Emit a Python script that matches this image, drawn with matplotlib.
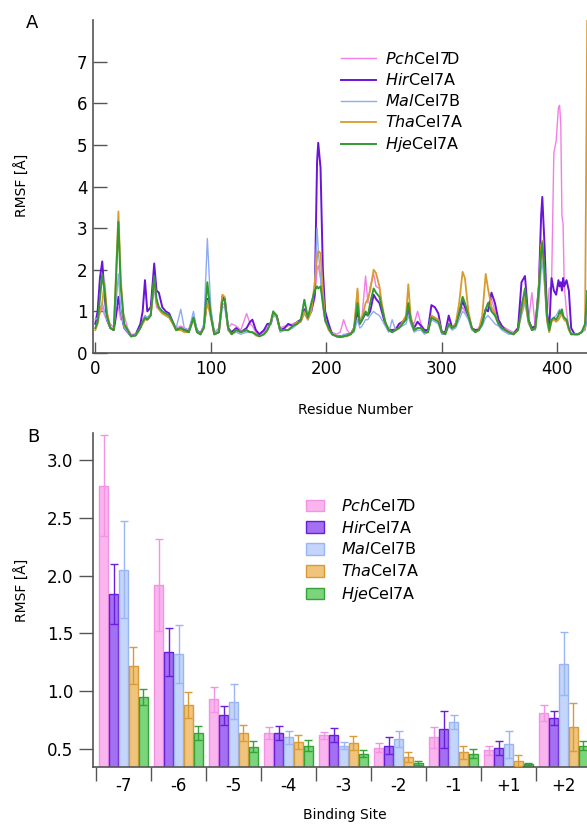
import matplotlib
matplotlib.use("agg")
import matplotlib.pyplot as plt
import numpy as np
from matplotlib.ticker import FixedLocator, FormatStrFormatter

plt.rcParams['font.family'] = ['DejaVu Sans']
plt.rcParams['mathtext.fontset'] = 'dejavusans'

# ---- shared series info ----
names = [r"$\mathit{Pch}$Cel7D", r"$\mathit{Hir}$Cel7A", r"$\mathit{Mal}$Cel7B",
         r"$\mathit{Tha}$Cel7A", r"$\mathit{Hje}$Cel7A"]
line_colors = ["#f27fe5", "#6b14d8", "#8eabf2", "#d99a2e", "#2f9b32"]
fill_colors = ["#fab5ef", "#a470f2", "#c4d5fb", "#f0c47c", "#7ad57c"]
edge_colors = ["#f293e4", "#6a1ed9", "#9ab6f2", "#d99b35", "#35a338"]

# ---- panel A: RMSF per residue (at selected residues) ----
residues = [
    0, 2, 4, 6, 8, 10, 13, 16, 18, 20,
    22, 25, 28, 31, 35, 39, 41, 43, 45, 48,
    51, 53, 55, 58, 61, 64, 67, 70, 74, 77,
    81, 85, 88, 91, 94, 97, 100, 103, 107, 110,
    112, 115, 118, 122, 126, 131, 134, 136, 139, 142,
    146, 149, 152, 154, 157, 160, 164, 167, 171, 175,
    178, 181, 184, 187, 190, 192, 193, 195, 197, 199,
    202, 205, 209, 212, 215, 218, 221, 224, 227, 229,
    231, 234, 236, 238, 241, 243, 246, 248, 251, 254,
    257, 260, 263, 266, 269, 271, 273, 276, 279, 282,
    285, 288, 291, 294, 297, 300, 303, 306, 309, 312,
    315, 318, 320, 323, 326, 329, 332, 335, 338, 340,
    343, 346, 349, 352, 355, 358, 362, 366, 369, 372,
    375, 378, 381, 384, 386, 387, 389, 391, 393, 395,
    397, 399, 401, 402, 403, 404, 405, 406, 408, 410,
    412, 415, 418, 421, 424, 426, 428, 432,
]

pch_rmsf = [
    0.80, 0.85, 0.95, 1.10, 0.90, 0.80, 0.70, 0.60, 1.00, 1.10,
    0.80, 0.90, 0.60, 0.45, 0.45, 0.65, 0.80, 0.90, 0.85, 0.90,
    1.60, 1.10, 1.05, 0.95, 0.90, 0.85, 0.75, 0.60, 0.65, 0.60,
    0.55, 0.85, 0.55, 0.50, 0.65, 1.20, 0.90, 0.50, 0.60, 1.20,
    1.15, 0.60, 0.70, 0.65, 0.55, 0.95, 0.70, 0.65, 0.50, 0.45,
    0.50, 0.60, 0.70, 0.95, 0.90, 0.60, 0.65, 0.65, 0.70, 0.75,
    0.80, 0.95, 0.80, 1.00, 1.30, 2.00, 2.10, 1.80, 1.10, 0.75,
    0.60, 0.50, 0.45, 0.50, 0.80, 0.55, 0.45, 0.60, 1.50, 0.75,
    0.90, 1.85, 1.20, 1.60, 1.90, 1.60, 1.55, 1.10, 0.70, 0.60,
    0.55, 0.60, 0.70, 0.75, 0.85, 0.95, 0.80, 0.70, 1.00, 0.70,
    0.55, 0.55, 0.90, 0.85, 0.80, 0.50, 0.50, 0.85, 0.60, 0.70,
    0.90, 1.10, 1.00, 0.85, 0.60, 0.55, 0.60, 0.80, 1.00, 1.20,
    1.30, 1.00, 0.75, 0.65, 0.60, 0.55, 0.50, 0.60, 1.20, 1.40,
    0.75, 1.45, 0.60, 1.50, 2.30, 2.40, 1.80, 0.85, 1.55, 1.60,
    4.80, 5.10, 5.90, 5.95, 5.50, 3.30, 3.10, 1.60, 1.00, 0.60,
    0.45, 0.45, 0.45, 0.50, 0.55, 1.00, 1.00, 1.00,
]

hir_rmsf = [
    0.70, 1.00, 1.80, 2.20, 1.40, 0.80, 0.60, 0.55, 0.90, 1.35,
    1.00, 0.60, 0.50, 0.40, 0.45, 0.70, 1.00, 1.75, 1.00, 1.10,
    2.15, 1.50, 1.45, 1.10, 1.00, 0.95, 0.75, 0.55, 0.60, 0.55,
    0.55, 0.85, 0.55, 0.45, 0.65, 1.30, 0.95, 0.45, 0.50, 1.35,
    1.30, 0.60, 0.50, 0.60, 0.50, 0.60, 0.75, 0.80, 0.55, 0.45,
    0.55, 0.70, 0.70, 0.95, 0.90, 0.55, 0.60, 0.70, 0.65, 0.75,
    0.80, 1.05, 0.85, 1.00, 1.40, 4.60, 5.05, 4.45, 2.00, 1.00,
    0.70, 0.45, 0.40, 0.40, 0.40, 0.45, 0.45, 0.60, 1.00, 0.70,
    0.80, 0.95, 0.90, 1.00, 1.40, 1.30, 1.20, 1.00, 0.70, 0.55,
    0.55, 0.55, 0.70, 0.75, 0.85, 1.10, 0.80, 0.60, 0.75, 0.65,
    0.55, 0.55, 1.15, 1.10, 0.95, 0.50, 0.50, 0.90, 0.60, 0.70,
    0.95, 1.25, 1.10, 0.90, 0.60, 0.55, 0.55, 0.75, 1.05, 1.00,
    1.45, 1.20, 0.80, 0.65, 0.55, 0.50, 0.45, 0.60, 1.70, 1.85,
    0.80, 0.60, 0.65, 1.60, 3.30, 3.75, 2.55, 1.00, 0.55, 1.80,
    1.50, 1.40, 1.75, 1.60, 1.70, 1.50, 1.80, 1.60, 1.75, 1.50,
    0.60, 0.45, 0.45, 0.50, 0.60, 1.00, 1.00, 1.00,
]

mal_rmsf = [
    0.80, 0.85, 1.00, 1.20, 1.00, 0.80, 0.60, 0.55, 1.20, 1.90,
    1.00, 0.60, 0.50, 0.40, 0.45, 0.60, 0.75, 0.90, 0.85, 0.95,
    1.60, 1.20, 1.10, 1.00, 0.90, 0.85, 0.70, 0.60, 1.05, 0.60,
    0.55, 1.00, 0.55, 0.45, 0.70, 2.75, 1.10, 0.50, 0.55, 1.10,
    1.10, 0.55, 0.45, 0.50, 0.45, 0.50, 0.50, 0.50, 0.45, 0.40,
    0.45, 0.55, 0.70, 0.90, 0.85, 0.50, 0.55, 0.55, 0.60, 0.70,
    0.75, 0.95, 0.80, 1.10, 1.60, 3.00, 2.50, 1.80, 1.20, 0.75,
    0.60, 0.45, 0.40, 0.38, 0.45, 0.45, 0.45, 0.50, 0.80, 0.60,
    0.65, 0.80, 0.80, 0.90, 1.00, 0.95, 0.90, 0.80, 0.65, 0.50,
    0.80, 0.55, 0.60, 0.65, 0.70, 0.90, 0.70, 0.50, 0.55, 0.55,
    0.45, 0.50, 0.80, 0.75, 0.70, 0.45, 0.45, 0.65, 0.55, 0.60,
    0.80, 1.00, 0.95, 0.80, 0.55, 0.50, 0.55, 0.65, 0.85, 0.90,
    0.80, 0.70, 0.65, 0.55, 0.50, 0.45, 0.45, 0.55, 0.90, 1.20,
    0.70, 0.55, 0.55, 1.20, 2.00, 2.20, 1.60, 0.75, 0.50, 0.80,
    0.85, 0.90, 1.00, 1.05, 1.00, 1.00, 0.90, 0.80, 0.75, 0.55,
    0.45, 0.45, 0.45, 0.50, 0.55, 1.00, 1.00, 1.00,
]

tha_rmsf = [
    0.55, 0.70, 1.00, 1.20, 1.70, 1.00, 0.60, 0.55, 2.00, 3.40,
    1.80, 0.65, 0.55, 0.40, 0.42, 0.60, 0.70, 0.80, 0.80, 0.90,
    1.80, 1.20, 1.05, 0.95, 0.90, 0.85, 0.70, 0.55, 0.55, 0.50,
    0.50, 0.80, 0.50, 0.45, 0.60, 1.25, 0.85, 0.45, 0.50, 1.40,
    1.35, 0.55, 0.45, 0.55, 0.50, 0.55, 0.50, 0.50, 0.42, 0.40,
    0.45, 0.55, 0.75, 0.95, 0.90, 0.55, 0.55, 0.55, 0.65, 0.75,
    0.75, 1.00, 0.80, 1.00, 1.70, 2.30, 2.45, 2.40, 1.50, 0.80,
    0.55, 0.45, 0.40, 0.38, 0.40, 0.40, 0.45, 0.60, 1.55, 0.70,
    0.85, 1.20, 1.30, 1.50, 2.00, 1.92, 1.60, 1.20, 0.75, 0.55,
    0.50, 0.55, 0.60, 0.75, 0.90, 1.65, 0.90, 0.55, 0.60, 0.60,
    0.50, 0.50, 0.90, 0.85, 0.80, 0.50, 0.45, 0.70, 0.60, 0.70,
    1.20, 1.95, 1.80, 1.00, 0.60, 0.50, 0.55, 0.90, 1.90, 1.55,
    1.10, 0.95, 0.70, 0.60, 0.55, 0.50, 0.45, 0.55, 1.00, 1.30,
    0.75, 0.55, 0.60, 1.60, 2.60, 2.70, 1.80, 0.80, 0.50, 0.75,
    0.80, 0.75, 0.80, 0.85, 0.90, 0.95, 0.85, 0.80, 0.75, 0.55,
    0.45, 0.45, 0.45, 0.50, 0.60, 8.50, 9.00, 9.00,
]

hje_rmsf = [
    0.60, 0.75, 1.30, 1.90, 1.50, 0.90, 0.60, 0.55, 1.80, 3.15,
    1.60, 0.70, 0.55, 0.40, 0.42, 0.60, 0.75, 0.85, 0.80, 0.90,
    1.85, 1.30, 1.10, 1.00, 0.95, 0.90, 0.75, 0.55, 0.60, 0.55,
    0.50, 0.85, 0.50, 0.45, 0.60, 1.70, 0.90, 0.45, 0.50, 1.25,
    1.30, 0.60, 0.45, 0.55, 0.50, 0.55, 0.50, 0.50, 0.45, 0.40,
    0.45, 0.55, 0.75, 1.00, 0.90, 0.55, 0.55, 0.55, 0.65, 0.70,
    0.80, 1.28, 0.85, 1.20, 1.50, 1.60, 1.55, 1.60, 1.20, 0.80,
    0.60, 0.45, 0.40, 0.38, 0.40, 0.42, 0.45, 0.55, 1.20, 0.70,
    0.80, 1.00, 0.90, 1.20, 1.55, 1.45, 1.35, 1.10, 0.75, 0.55,
    0.50, 0.55, 0.60, 0.70, 0.80, 1.20, 0.80, 0.55, 0.60, 0.60,
    0.50, 0.50, 0.85, 0.80, 0.75, 0.50, 0.45, 0.70, 0.60, 0.65,
    0.95, 1.35, 1.20, 0.90, 0.60, 0.50, 0.55, 0.70, 1.05, 1.20,
    1.00, 0.90, 0.70, 0.60, 0.55, 0.50, 0.45, 0.55, 1.10, 1.55,
    0.80, 0.55, 0.60, 1.50, 2.40, 2.65, 2.00, 0.90, 0.55, 0.80,
    0.85, 0.80, 0.90, 1.00, 0.95, 1.05, 0.90, 0.85, 0.80, 0.60,
    0.45, 0.45, 0.45, 0.50, 0.70, 1.50, 1.30, 1.00,
]

rmsf_series = [pch_rmsf, hir_rmsf, mal_rmsf, tha_rmsf, hje_rmsf]
line_widths = [1.0, 1.4, 1.0, 1.3, 1.4]

# ---- panel B: RMSF per binding site ----
sites = ["-7", "-6", "-5", "-4", "-3", "-2", "-1", "+1", "+2"]
pch_site = [2.78, 1.92, 0.93, 0.64, 0.62, 0.51, 0.60, 0.49, 0.81]
pch_err = [0.44, 0.40, 0.11, 0.05, 0.03, 0.04, 0.09, 0.04, 0.07]
hir_site = [1.84, 1.34, 0.79, 0.64, 0.62, 0.53, 0.67, 0.51, 0.77]
hir_err = [0.26, 0.21, 0.08, 0.06, 0.06, 0.07, 0.16, 0.06, 0.06]
mal_site = [2.05, 1.32, 0.91, 0.60, 0.53, 0.59, 0.73, 0.54, 1.24]
mal_err = [0.42, 0.25, 0.15, 0.06, 0.03, 0.07, 0.06, 0.12, 0.27]
tha_site = [1.22, 0.88, 0.64, 0.56, 0.55, 0.43, 0.47, 0.40, 0.69]
tha_err = [0.16, 0.11, 0.07, 0.06, 0.06, 0.04, 0.06, 0.05, 0.21]
hje_site = [0.95, 0.64, 0.52, 0.53, 0.46, 0.38, 0.46, 0.37, 0.53]
hje_err = [0.07, 0.06, 0.05, 0.05, 0.03, 0.02, 0.04, 0.01, 0.04]

site_values = [pch_site, hir_site, mal_site, tha_site, hje_site]
site_errors = [pch_err, hir_err, mal_err, tha_err, hje_err]

W, H = 587, 824
fig = plt.figure(figsize=(W / 100, H / 100), dpi=100)


def px_axes(left, top, right, bottom):
    return fig.add_axes([left / W, 1 - bottom / H, (right - left) / W, (bottom - top) / H])


spine_color = "#555555"
tick_size = 12
label_size = 10

# ---------------- panel A ----------------
axA = px_axes(93, 20, 93 + 1.155 * 502, 353)
for vals, name, col, lw in zip(rmsf_series, names, line_colors, line_widths):
    axA.plot(residues, vals, color=col, lw=lw, label=name)
axA.set_xlim(-2, 500)
axA.set_ylim(0, 8.0)
axA.xaxis.set_major_locator(FixedLocator([0, 100, 200, 300, 400]))
axA.yaxis.set_major_locator(FixedLocator(range(0, 8)))
axA.tick_params(axis='y', direction='in', length=10, width=1, color=spine_color,
                labelsize=tick_size, pad=4)
axA.tick_params(axis='x', direction='in', length=8, width=1, color=spine_color,
                labelsize=tick_size, pad=5)
for s in ["top", "right"]:
    axA.spines[s].set_visible(False)
for s in ["left", "bottom"]:
    axA.spines[s].set_color(spine_color)
    axA.spines[s].set_linewidth(1.2)

axA.legend(loc="upper left", bbox_to_anchor=(341 / W, 1 - 51 / H), bbox_transform=fig.transFigure,
           frameon=False, fontsize=11.5, handlelength=2.2, handletextpad=0.55,
           labelspacing=0.32, borderpad=0, borderaxespad=0)

fig.text(22 / W, 1 - 185 / H, "RMSF [Å]", rotation=90, ha="center", va="center", fontsize=label_size)
fig.text(355 / W, 1 - 410 / H, "Residue Number", ha="center", va="center", fontsize=label_size)
fig.text(32 / W, 1 - 23 / H, "A", ha="center", va="center", fontsize=13)

# ---------------- panel B ----------------
axB = px_axes(93, 433, 93 + 55 * 12.555, 767)
x = np.arange(len(sites))
bar_w = 0.17
step = 0.18
for i, (vals, errs) in enumerate(zip(site_values, site_errors)):
    pos = x + (i - 2) * step
    axB.bar(pos, vals, width=bar_w, color=fill_colors[i], edgecolor=edge_colors[i],
            linewidth=1.0, label=names[i], zorder=2)
    axB.errorbar(pos, vals, yerr=errs, fmt="none", ecolor=edge_colors[i],
                 elinewidth=1.0, capsize=2.6, capthick=1.0, zorder=3)
axB.set_xlim(-0.555, 12)
axB.set_ylim(0.344, 3.236)
axB.set_xticks(x)
axB.set_xticklabels(sites)
axB.set_xticks(np.arange(-0.5, 12, 1.0), minor=True)
axB.yaxis.set_major_locator(FixedLocator([0.5, 1.0, 1.5, 2.0, 2.5, 3.0]))
axB.yaxis.set_major_formatter(FormatStrFormatter("%.1f"))
axB.tick_params(axis='x', which='major', length=0, labelsize=tick_size, pad=7)
axB.tick_params(axis='x', which='minor', direction='out', length=10, width=1, color=spine_color)
axB.tick_params(axis='y', direction='out', length=10, width=1, color=spine_color,
                labelsize=tick_size, pad=4)
for s in ["top", "right"]:
    axB.spines[s].set_visible(False)
for s in ["left", "bottom"]:
    axB.spines[s].set_color(spine_color)
    axB.spines[s].set_linewidth(1.2)

handles, labels = axB.get_legend_handles_labels()
axB.legend(handles[:5], labels[:5], loc="upper left", bbox_to_anchor=(306 / W, 1 - 498 / H),
           bbox_transform=fig.transFigure, frameon=False, fontsize=11.5,
           handlelength=1.1, handleheight=0.75, handletextpad=1.1,
           labelspacing=0.36, borderpad=0, borderaxespad=0)

fig.text(22 / W, 1 - 590 / H, "RMSF [Å]", rotation=90, ha="center", va="center", fontsize=label_size)
fig.text(345 / W, 1 - 815 / H, "Binding Site", ha="center", va="center", fontsize=label_size)
fig.text(33 / W, 1 - 437 / H, "B", ha="center", va="center", fontsize=13)

fig.savefig("out.png", dpi=100)
